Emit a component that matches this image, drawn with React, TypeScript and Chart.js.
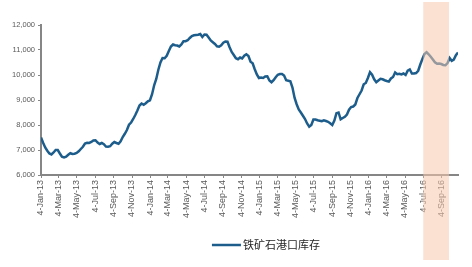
import React, { useEffect, useRef } from "react";
import { Chart, registerables } from "chart.js";

Chart.register(...registerables);

// Weekly series start date (Friday)
const START_DATE = "2013-01-04";

// 铁矿石港口库存 (weekly, 万吨)
const INVENTORY = [
  7500, 7290, 7100, 6970, 6860, 6820, 6900, 7000, 7000, 6860,
  6730, 6700, 6730, 6810, 6870, 6840, 6850, 6880, 6950, 7040,
  7130, 7260, 7290, 7280, 7320, 7380, 7390, 7300, 7240, 7280,
  7230, 7140, 7130, 7150, 7250, 7320, 7280, 7250, 7350, 7520,
  7650, 7800, 8010, 8100, 8240, 8400, 8580, 8780, 8860, 8810,
  8870, 8950, 8990, 9230, 9590, 9840, 10210, 10500, 10680, 10670,
  10770, 10960, 11140, 11220, 11190, 11180, 11140, 11220, 11350, 11350,
  11390, 11480, 11560, 11590, 11600, 11610, 11640, 11520, 11620, 11610,
  11500, 11380, 11310, 11240, 11150, 11130, 11190, 11290, 11340, 11330,
  11110, 10920, 10800, 10670, 10630, 10700, 10660, 10770, 10830, 10760,
  10530, 10470, 10230, 10020, 9880, 9900, 9880, 9940, 9950, 9780,
  9710, 9790, 9910, 10010, 10040, 10040, 9980, 9790, 9770, 9750,
  9500, 9090, 8830, 8620, 8500, 8370, 8240, 8060, 7930, 8000,
  8220, 8220, 8190, 8170, 8150, 8190, 8160, 8130, 8070, 8000,
  8180, 8470, 8500, 8230, 8280, 8330, 8420, 8610, 8720, 8740,
  8820, 9080, 9230, 9380, 9630, 9680, 9880, 10110, 10010, 9830,
  9710, 9780, 9850, 9830, 9790, 9760, 9740, 9860, 9920, 10100,
  10030, 10050, 10020, 10060, 10000, 10170, 10220, 10060, 10060, 10080,
  10170, 10420, 10640, 10840, 10910, 10830, 10730, 10620, 10510, 10450,
  10460, 10440, 10400, 10390, 10480, 10680, 10570, 10620, 10790, 10900,
];

const TICK_DATES = [
  "2013-01-04", "2013-03-04", "2013-05-04", "2013-07-04", "2013-09-04", "2013-11-04",
  "2014-01-04", "2014-03-04", "2014-05-04", "2014-07-04", "2014-09-04", "2014-11-04",
  "2015-01-04", "2015-03-04", "2015-05-04", "2015-07-04", "2015-09-04", "2015-11-04",
  "2016-01-04", "2016-03-04", "2016-05-04", "2016-07-04", "2016-09-04",
];
const TICK_LABELS = [
  "4-Jan-13", "4-Mar-13", "4-May-13", "4-Jul-13", "4-Sep-13", "4-Nov-13",
  "4-Jan-14", "4-Mar-14", "4-May-14", "4-Jul-14", "4-Sep-14", "4-Nov-14",
  "4-Jan-15", "4-Mar-15", "4-May-15", "4-Jul-15", "4-Sep-15", "4-Nov-15",
  "4-Jan-16", "4-Mar-16", "4-May-16", "4-Jul-16", "4-Sep-16",
];

const Y_MIN = 6000;
const Y_MAX = 12000;
const Y_STEP = 1000;

const HIGHLIGHT_START = "2016-07-04";
const HIGHLIGHT_END = "2016-09-28";

const SERIES_LABEL = "铁矿石港口库存";
const LINE_COLOR = "#1d5d8c";
const AXIS_COLOR = "#868686";
const TEXT_COLOR = "#595959";
const FONT = "'Liberation Sans', Arial, sans-serif";

const DAY_MS = 86400000;
const dayOf = (iso: string) => Math.round((Date.parse(iso) - Date.parse(START_DATE)) / DAY_MS);

export default function App() {
  const canvasRef = useRef<HTMLCanvasElement | null>(null);

  useEffect(() => {
    const canvas = canvasRef.current;
    if (!canvas) return;

    const points = INVENTORY.map((v, i) => ({ x: i * 7, y: v }));
    const tickDays = TICK_DATES.map(dayOf);
    const labelByDay = new Map<number, string>();
    tickDays.forEach((d, i) => labelByDay.set(d, TICK_LABELS[i]));

    const highlightPlugin = {
      id: "highlightBand",
      afterDraw(chart: any) {
        const { ctx } = chart;
        const xs = chart.scales.x;
        const x0 = xs.getPixelForValue(dayOf(HIGHLIGHT_START));
        const x1 = xs.getPixelForValue(dayOf(HIGHLIGHT_END));
        ctx.save();
        ctx.fillStyle = "rgba(247, 201, 172, 0.55)";
        ctx.fillRect(x0, 2, x1 - x0, chart.height - 9);
        ctx.restore();
      },
    };

    const legendPlugin = {
      id: "customLegend",
      afterDraw(chart: any) {
        const { ctx } = chart;
        const y = chart.height - 22;
        const lx = chart.width * 0.449;
        ctx.save();
        ctx.strokeStyle = LINE_COLOR;
        ctx.lineWidth = 2.5;
        ctx.beginPath();
        ctx.moveTo(lx, y);
        ctx.lineTo(lx + 29, y);
        ctx.stroke();
        ctx.fillStyle = "#262626";
        ctx.font = "11px 'Noto Sans CJK SC', sans-serif";
        ctx.textBaseline = "middle";
        ctx.textAlign = "left";
        ctx.fillText(SERIES_LABEL, lx + 31, y);
        ctx.restore();
      },
    };

    const chart = new Chart(canvas, {
      type: "line",
      data: {
        datasets: [
          {
            label: SERIES_LABEL,
            data: points,
            borderColor: LINE_COLOR,
            borderWidth: 2.5,
            pointRadius: 0,
            tension: 0,
            fill: false,
          },
        ],
      },
      options: {
        responsive: false,
        animation: false,
        devicePixelRatio: 1,
        layout: { padding: { top: 25, right: 14, bottom: 0, left: 0 } },
        plugins: {
          legend: { display: false },
          tooltip: { enabled: false },
        },
        scales: {
          x: {
            type: "linear",
            min: 0,
            max: (INVENTORY.length - 1) * 7,
            afterBuildTicks: (scale: any) => {
              scale.ticks = tickDays.map((d) => ({ value: d }));
            },
            afterFit: (scale: any) => {
              scale.height = 92;
            },
            grid: {
              display: true,
              drawOnChartArea: false,
              drawTicks: true,
              tickLength: 3,
              color: AXIS_COLOR,
            },
            border: { display: true, color: AXIS_COLOR, width: 2 },
            ticks: {
              autoSkip: false,
              minRotation: 90,
              maxRotation: 90,
              padding: 2,
              color: TEXT_COLOR,
              font: { family: FONT, size: 9 },
              callback: (v: any) => labelByDay.get(Number(v)) ?? "",
            },
          },
          y: {
            type: "linear",
            min: Y_MIN,
            max: Y_MAX,
            afterFit: (scale: any) => {
              scale.width = 41;
            },
            grid: {
              display: true,
              drawOnChartArea: false,
              drawTicks: true,
              tickLength: 3,
              color: AXIS_COLOR,
            },
            border: { display: true, color: AXIS_COLOR, width: 2 },
            ticks: {
              stepSize: Y_STEP,
              padding: 3,
              color: TEXT_COLOR,
              font: { family: FONT, size: 7.5 },
              callback: (v: any) => Number(v).toLocaleString("en-US"),
            },
          },
        },
      },
      plugins: [highlightPlugin, legendPlugin],
    });

    return () => chart.destroy();
  }, []);

  return (
    <div style={{ position: "absolute", left: 0, top: 0, width: 472, height: 267, background: "#fff" }}>
      <canvas ref={canvasRef} width={472} height={267} style={{ display: "block" }} />
    </div>
  );
}
